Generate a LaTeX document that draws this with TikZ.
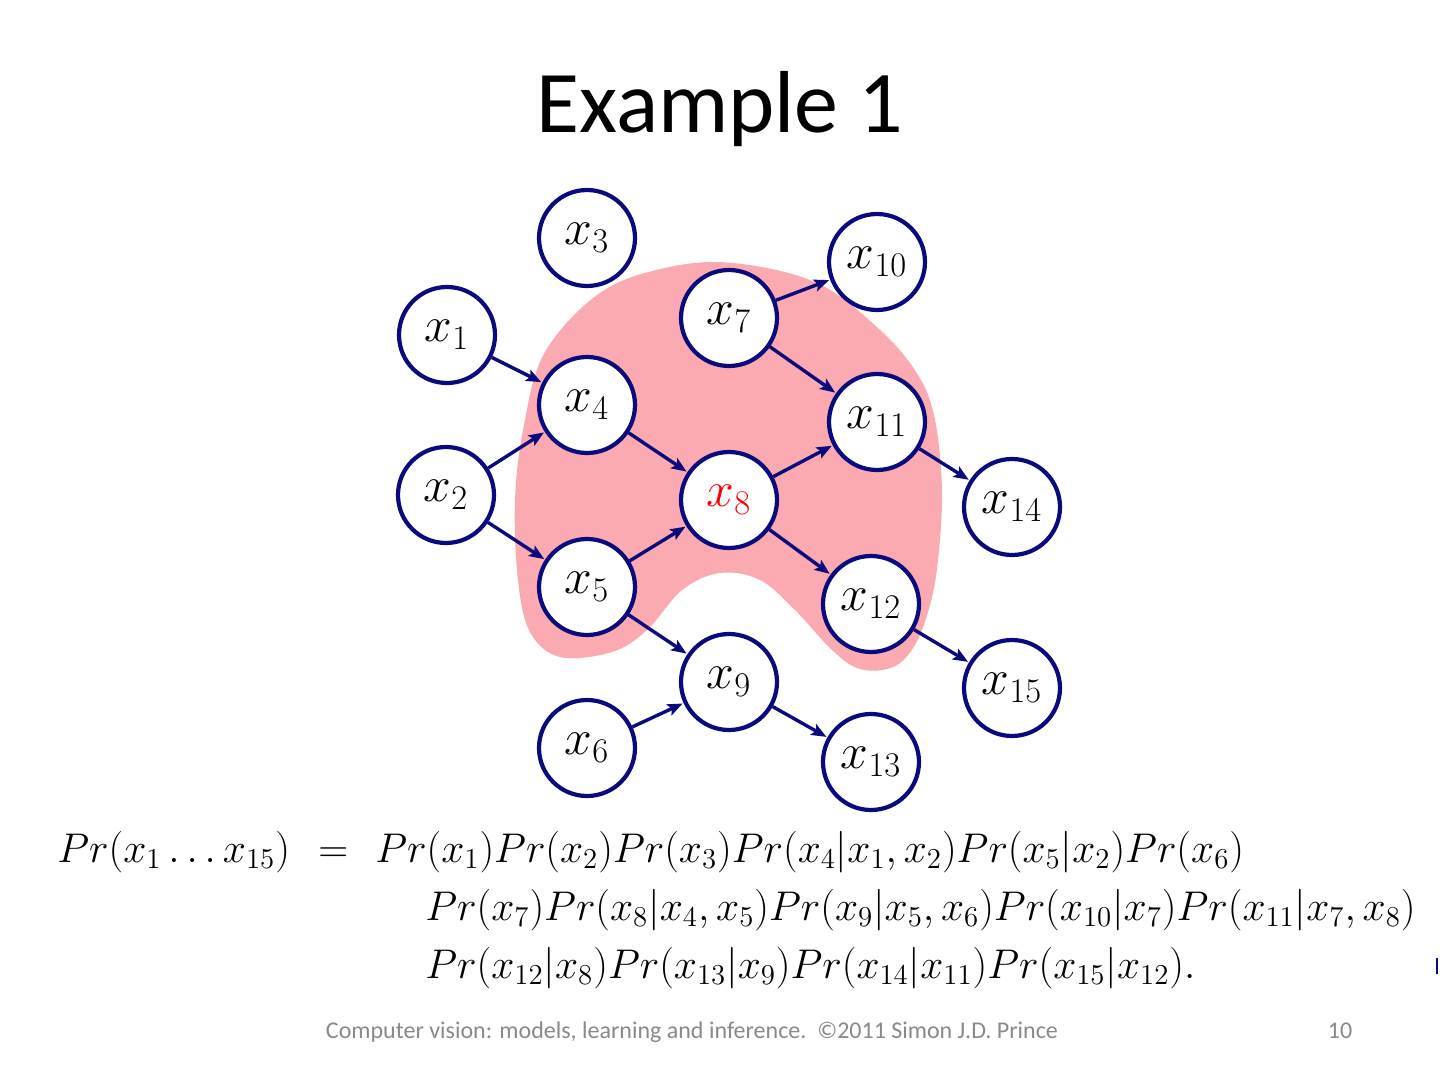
\documentclass[tikz,border=0pt]{standalone}
\usepackage{fontspec}
\newfontfamily\titlefont{Carlito}
\usetikzlibrary{arrows.meta}
\definecolor{navy}{RGB}{10,10,125}
\definecolor{blob}{RGB}{250,170,176}
\definecolor{footgray}{RGB}{137,137,137}
\tikzset{
  var/.style={circle, draw=navy, line width=2.1pt, fill=white, minimum size=48pt, inner sep=0pt, font=\fontsize{23.5}{28}\selectfont},
  edge/.style={draw=navy, line width=1.7pt, -{Stealth[length=7.5pt,width=6pt,inset=1.5pt]}, shorten >=0.5pt},
  eq/.style={anchor=base west, inner sep=0pt, font=\fontsize{20.2}{24}\selectfont},
}
\begin{document}
\begin{tikzpicture}[x=0.5pt,y=-0.5pt]
\useasboundingbox[fill=white] (0,0) rectangle (1440,1080);
% title
\node[anchor=base, inner sep=0pt, font=\titlefont\fontsize{44}{50}\selectfont] (title) at (720,133) {Example 1};
% blob
\fill[blob] plot[smooth cycle, tension=0.6] coordinates {
 (733,263) (817,283) (880,330) (918,375) (935,420) (942,490) (938,560) (930,605) (915,645) (893,667) (860,669) (832,650) (795,610) (760,580) (720,573) (682,590) (647,630) (612,652) (560,657) (530,632) (518,580) (515,500) (524,425) (545,352) (600,293) (665,268)};
% nodes
\node[var] (x3) at (587,238) {$x_3$};
\node[var] (x10) at (877,262) {$x_{10}$};
\node[var] (x7) at (729,318) {$x_7$};
\node[var] (x1) at (447,335) {$x_1$};
\node[var] (x4) at (587,405) {$x_4$};
\node[var] (x11) at (877,422) {$x_{11}$};
\node[var] (x2) at (446,495) {$x_2$};
\node[var] (x8) at (729,500) {\color{red}$x_8$};
\node[var] (x14) at (1012,507) {$x_{14}$};
\node[var] (x5) at (587,587) {$x_5$};
\node[var] (x12) at (871,604) {$x_{12}$};
\node[var] (x9) at (729,682) {$x_9$};
\node[var] (x15) at (1012,688) {$x_{15}$};
\node[var] (x6) at (587,748) {$x_6$};
\node[var] (x13) at (871,762) {$x_{13}$};
% edges
\draw[edge] (x1) -- (x4);
\draw[edge] (x2) -- (x4);
\draw[edge] (x2) -- (x5);
\draw[edge] (x4) -- (x8);
\draw[edge] (x5) -- (x8);
\draw[edge] (x5) -- (x9);
\draw[edge] (x6) -- (x9);
\draw[edge] (x7) -- (x10);
\draw[edge] (x7) -- (x11);
\draw[edge] (x8) -- (x11);
\draw[edge] (x8) -- (x12);
\draw[edge] (x9) -- (x13);
\draw[edge] (x11) -- (x14);
\draw[edge] (x12) -- (x15);
% equation
\node[eq] (lhs) at (57,862) {$Pr(x_1\ldots x_{15})$};
\node[eq] (eqs) at (318,862) {$=$};
\node[eq] (l1) at (375,862) {$Pr(x_1)Pr(x_2)Pr(x_3)Pr(x_4|x_1,x_2)Pr(x_5|x_2)Pr(x_6)$};
\node[eq] (l2) at (425,920) {$Pr(x_7)Pr(x_8|x_4,x_5)Pr(x_9|x_5,x_6)Pr(x_{10}|x_7)Pr(x_{11}|x_7,x_8)$};
\node[eq] (l3) at (425,978) {$Pr(x_{12}|x_8)Pr(x_{13}|x_9)Pr(x_{14}|x_{11})Pr(x_{15}|x_{12}).$};
\draw[navy, line width=1.2pt] (1437,958) -- (1437,974);
% footer
\node[anchor=base, inner sep=0pt, text=footgray, font=\titlefont\fontsize{12}{14}\selectfont] (foot) at (692,1038) {Computer vision: models, learning and inference.\ \ \textcopyright2011 Simon J.D. Prince};
\node[anchor=base, inner sep=0pt, text=footgray, font=\titlefont\fontsize{12}{14}\selectfont] (page) at (1340,1038) {10};
\end{tikzpicture}
\end{document}
